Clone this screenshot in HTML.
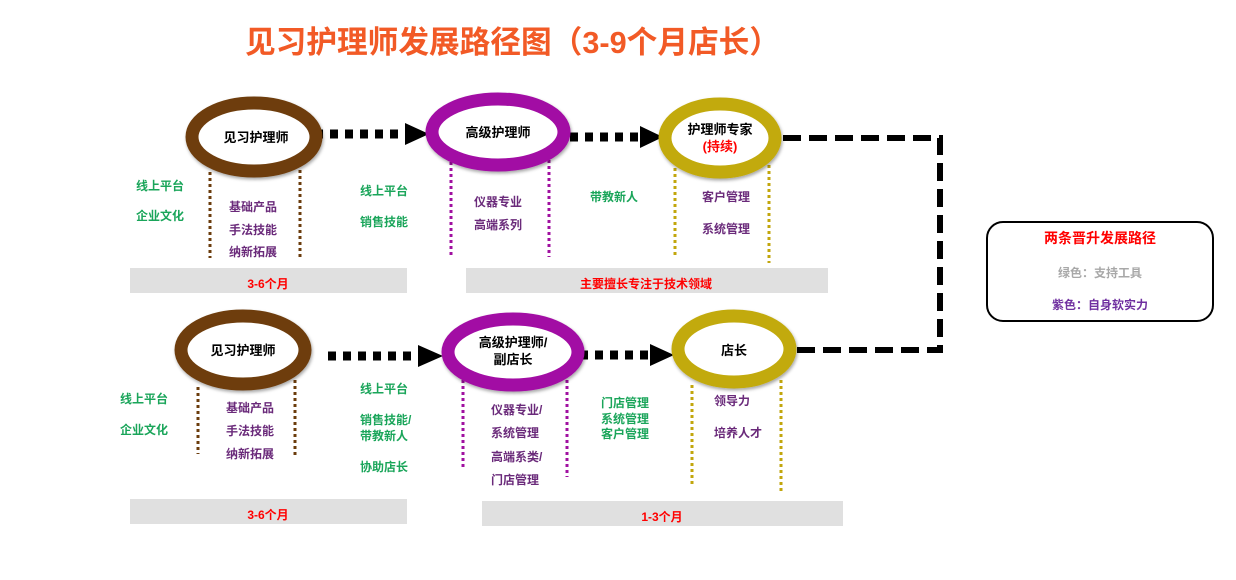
<!DOCTYPE html>
<html><head><meta charset="utf-8"><style>
html,body{margin:0;padding:0;background:#fff;}
svg{display:block;}
text{font-family:"Liberation Sans","Noto Sans CJK SC",sans-serif;font-weight:bold;}
</style></head><body>
<svg width="1236" height="580" viewBox="0 0 1236 580" xmlns="http://www.w3.org/2000/svg">
<defs>
<filter id="sh" x="-20%" y="-20%" width="140%" height="140%"><feDropShadow dx="1" dy="2" stdDeviation="1.5" flood-color="#000" flood-opacity="0.35"/></filter>
</defs>
<text x="245" y="53" font-size="31" fill="#f25a26" textLength="535" lengthAdjust="spacingAndGlyphs">见习护理师发展路径图（3-9个月店长）</text>

<!-- gray bars -->
<rect x="130" y="268" width="277" height="25" fill="#e0e0e0"/>
<rect x="466" y="268" width="362" height="25" fill="#e0e0e0"/>
<rect x="130" y="499" width="277" height="25" fill="#e0e0e0"/>
<rect x="482" y="501" width="361" height="25" fill="#e0e0e0"/>
<text x="268" y="288" font-size="12" fill="#ff0000" text-anchor="middle">3-6个月</text>
<text x="646" y="288" font-size="12" fill="#ff0000" text-anchor="middle">主要擅长专注于技术领域</text>
<text x="268" y="519" font-size="12" fill="#ff0000" text-anchor="middle">3-6个月</text>
<text x="662" y="521" font-size="12" fill="#ff0000" text-anchor="middle">1-3个月</text>

<!-- dashed path -->
<path d="M783 138 H940 V350 H797" fill="none" stroke="#000" stroke-width="6" stroke-dasharray="18 8"/>

<!-- vertical dotted lines -->
<g stroke-width="3" stroke-dasharray="3 3">
<line x1="210" y1="172" x2="210" y2="258" stroke="#6b3c0c"/>
<line x1="300" y1="170" x2="300" y2="258" stroke="#6b3c0c"/>
<line x1="451" y1="162" x2="451" y2="258" stroke="#a010a0"/>
<line x1="549" y1="160" x2="549" y2="257" stroke="#a010a0"/>
<line x1="675" y1="168" x2="675" y2="255" stroke="#c2a60c"/>
<line x1="769" y1="165" x2="769" y2="263" stroke="#c2a60c"/>
<line x1="198" y1="387" x2="198" y2="454" stroke="#6b3c0c"/>
<line x1="295" y1="380" x2="295" y2="455" stroke="#6b3c0c"/>
<line x1="463" y1="380" x2="463" y2="470" stroke="#a010a0"/>
<line x1="567" y1="380" x2="567" y2="477" stroke="#a010a0"/>
<line x1="692" y1="385" x2="692" y2="485" stroke="#c2a60c"/>
<line x1="781" y1="380" x2="781" y2="492" stroke="#c2a60c"/>
</g>

<!-- dotted arrows -->
<g stroke="#000" stroke-width="9" stroke-dasharray="8 7">
<line x1="315" y1="134" x2="405" y2="134"/>
<line x1="570" y1="137" x2="640" y2="137"/>
<line x1="328" y1="356" x2="418" y2="356"/>
<line x1="580" y1="355" x2="650" y2="355"/>
</g>
<polygon points="405,123 429,134 405,145" fill="#000"/>
<polygon points="640,126 663,137 640,148" fill="#000"/>
<polygon points="418,345 443,356 418,367" fill="#000"/>
<polygon points="650,344 674,355 650,366" fill="#000"/>

<!-- ellipses -->
<g fill="#fff" stroke-width="13" filter="url(#sh)">
<ellipse cx="254" cy="137" rx="62" ry="34" stroke="#6e3d0b"/>
<ellipse cx="498" cy="132" rx="66" ry="33" stroke="#a20ca4"/>
<ellipse cx="720" cy="138" rx="55" ry="34" stroke="#c2aa0a"/>
<ellipse cx="243" cy="350" rx="62" ry="34" stroke="#6e3d0b"/>
<ellipse cx="513" cy="352" rx="65" ry="33" stroke="#a20ca4"/>
<ellipse cx="734" cy="349" rx="56" ry="33" stroke="#c2aa0a"/>
</g>
<g font-size="13" fill="#000" text-anchor="middle">
<text x="256" y="142">见习护理师</text>
<text x="498" y="137">高级护理师</text>
<text x="720" y="134">护理师专家</text>
<text x="720" y="151" fill="#ff0000">(持续)</text>
<text x="243" y="355">见习护理师</text>
<text x="513" y="347">高级护理师/</text>
<text x="513" y="364">副店长</text>
<text x="734" y="355">店长</text>
</g>

<!-- green labels -->
<g font-size="12" fill="#1aa55a">
<text x="136" y="190">线上平台</text>
<text x="136" y="220">企业文化</text>
<text x="360" y="195">线上平台</text>
<text x="360" y="226">销售技能</text>
<text x="590" y="201">带教新人</text>
<text x="120" y="403">线上平台</text>
<text x="120" y="434">企业文化</text>
<text x="360" y="393">线上平台</text>
<text x="360" y="424">销售技能/</text>
<text x="360" y="440">带教新人</text>
<text x="360" y="471">协助店长</text>
<text x="601" y="407">门店管理</text>
<text x="601" y="423">系统管理</text>
<text x="601" y="438">客户管理</text>
</g>
<!-- purple labels -->
<g font-size="12" fill="#6a2a7a">
<text x="229" y="211">基础产品</text>
<text x="229" y="234">手法技能</text>
<text x="229" y="256">纳新拓展</text>
<text x="474" y="206">仪器专业</text>
<text x="474" y="229">高端系列</text>
<text x="702" y="201">客户管理</text>
<text x="702" y="233">系统管理</text>
<text x="226" y="412">基础产品</text>
<text x="226" y="435">手法技能</text>
<text x="226" y="458">纳新拓展</text>
<text x="491" y="414">仪器专业/</text>
<text x="491" y="437">系统管理</text>
<text x="491" y="461">高端系类/</text>
<text x="491" y="484">门店管理</text>
<text x="714" y="405">领导力</text>
<text x="714" y="437">培养人才</text>
</g>

<!-- legend -->
<rect x="987" y="222" width="226" height="99" rx="16" fill="#fff" stroke="#000" stroke-width="2"/>
<text x="1100" y="243" font-size="14" fill="#ff0000" text-anchor="middle">两条晋升发展路径</text>
<text x="1100" y="277" font-size="12" fill="#a8a8a8" text-anchor="middle">绿色：支持工具</text>
<text x="1100" y="309" font-size="12" fill="#7030a0" text-anchor="middle">紫色：自身软实力</text>
</svg>
</body></html>
